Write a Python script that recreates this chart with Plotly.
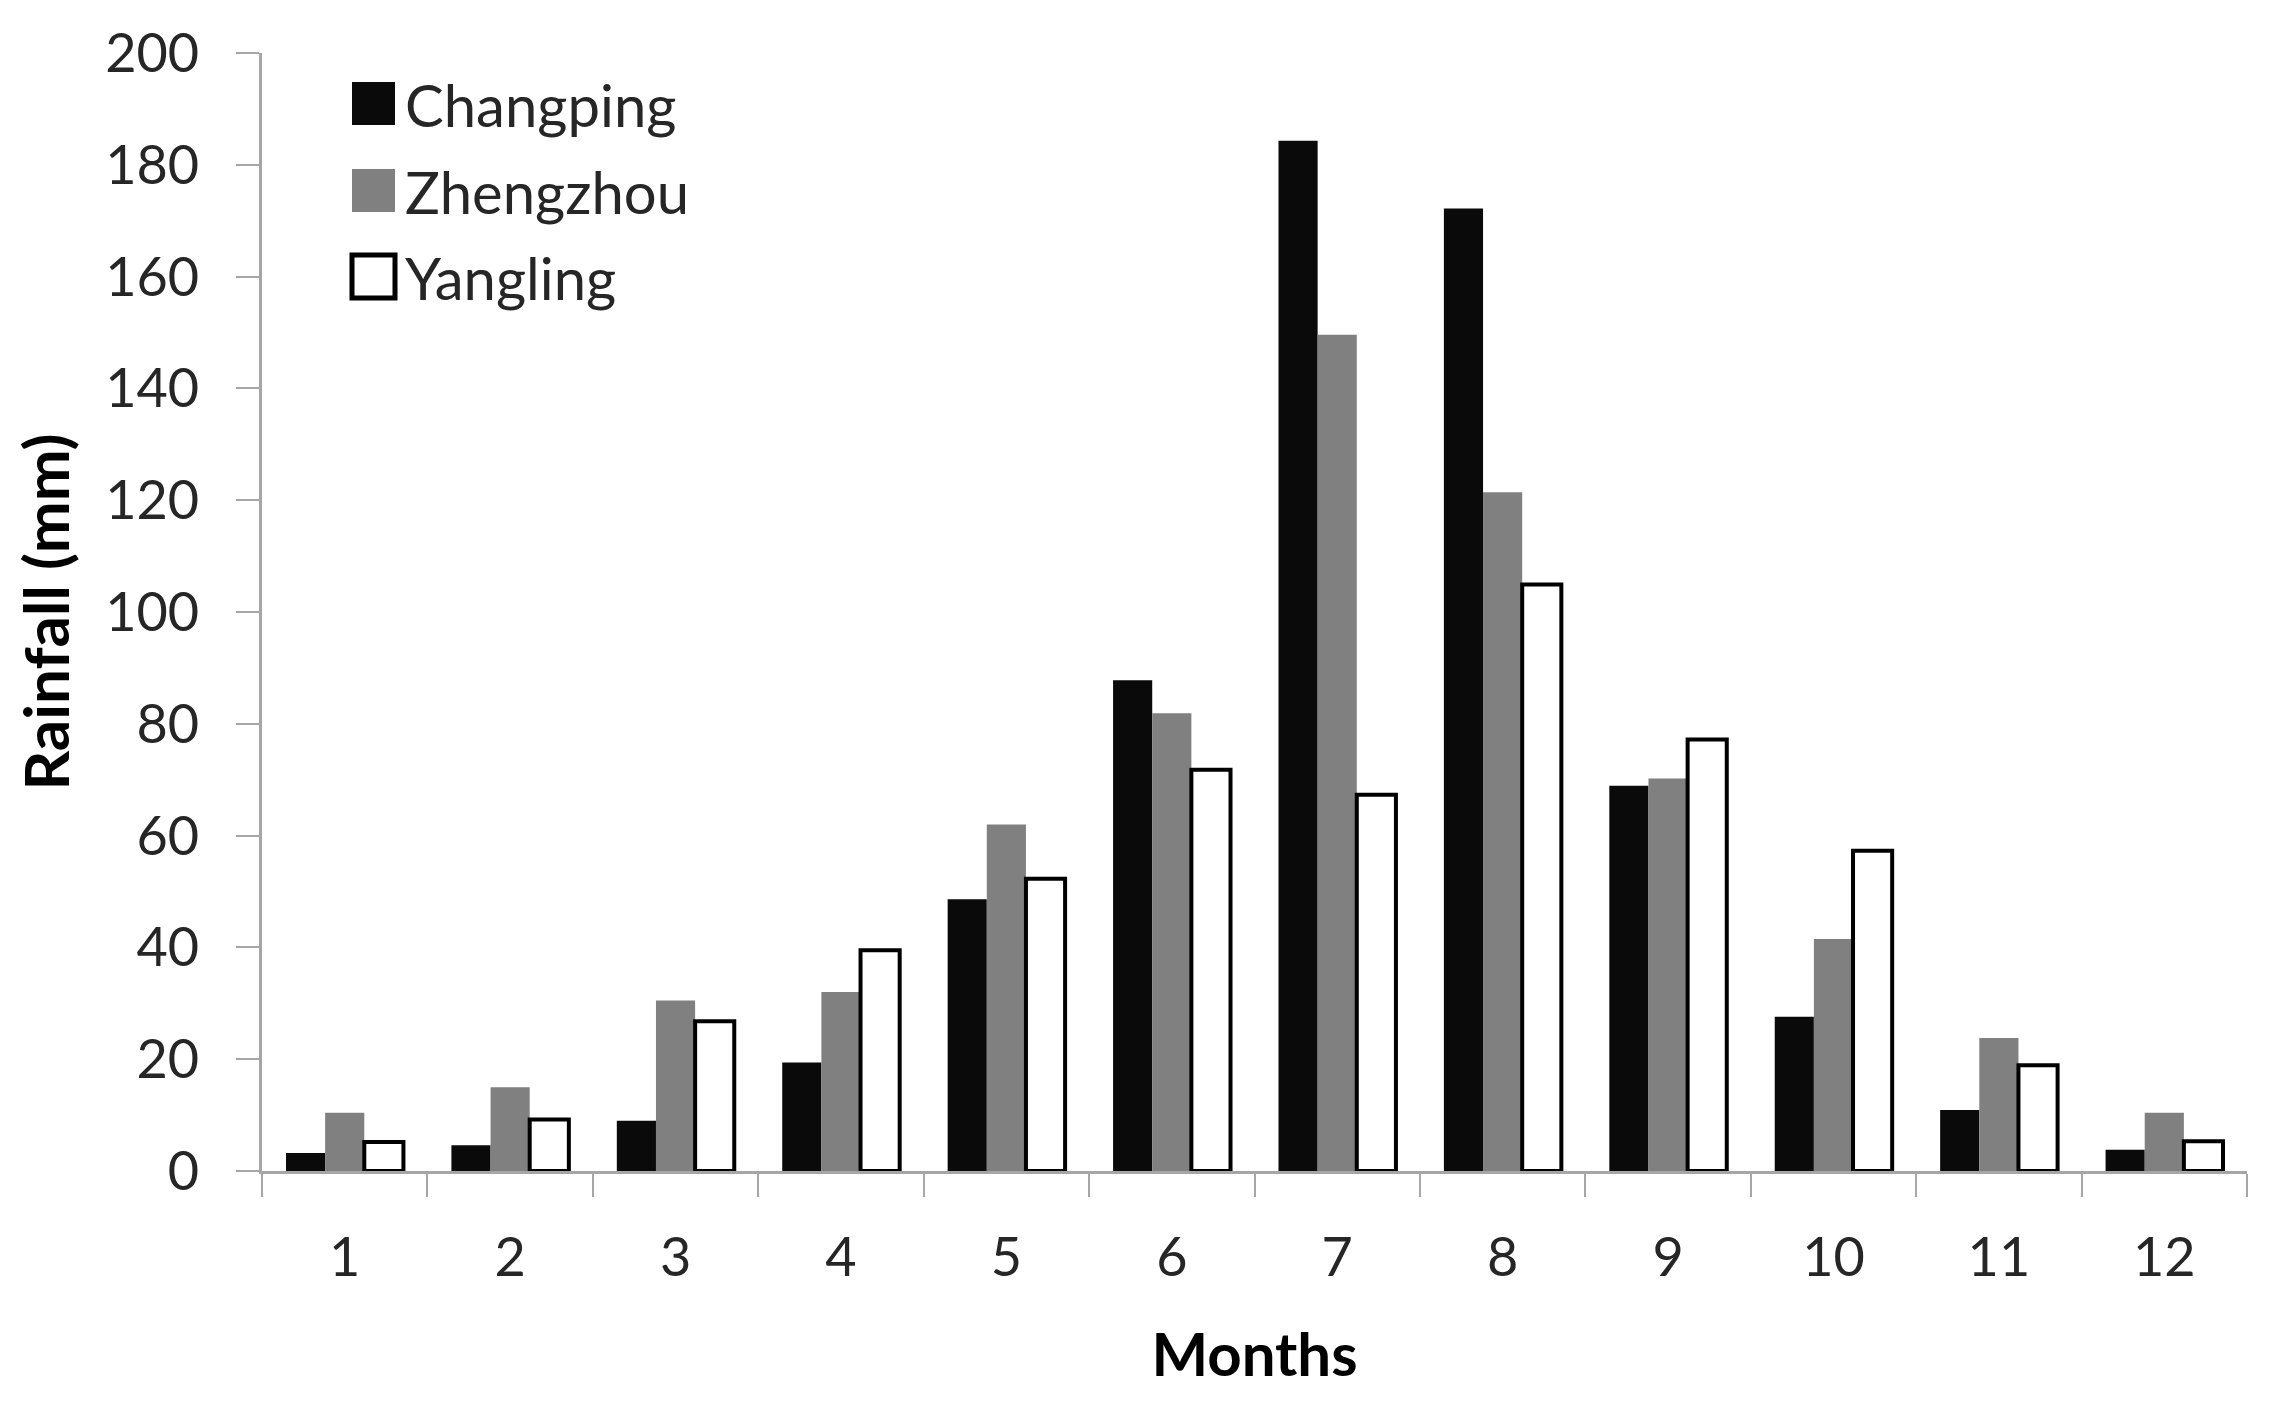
import plotly.graph_objects as go

months = ["1", "2", "3", "4", "5", "6", "7", "8", "9", "10", "11", "12"]
changping = [3.2, 4.6, 9.0, 19.4, 48.6, 87.8, 184.3, 172.2, 68.9, 27.6, 10.9, 3.8]
zhengzhou = [10.4, 15.0, 30.5, 32.0, 62.0, 81.9, 149.6, 121.4, 70.2, 41.5, 23.8, 10.4]
yangling = [5.2, 9.2, 26.8, 39.5, 52.3, 71.8, 67.3, 104.9, 77.2, 57.3, 18.9, 5.3]

y_ticks = [0, 20, 40, 60, 80, 100, 120, 140, 160, 180, 200]

FONT = "Lato"
AXIS_COLOR = "#a6a6a6"
TEXT_COLOR = "#262626"

W, H = 2253, 1385
L, R, T, B = 254, 14, 45, 222
PW = W - L - R
PH = H - T - B

fig = go.Figure()
fig.add_trace(go.Bar(name="Changping", x=months, y=changping,
                     marker=dict(color="#0a0a0a", line=dict(width=0))))
fig.add_trace(go.Bar(name="Zhengzhou", x=months, y=zhengzhou,
                     marker=dict(color="#808080", line=dict(width=0))))
fig.add_trace(go.Bar(name="Yangling", x=months, y=yangling,
                     marker=dict(color="#ffffff", line=dict(color="#000000", width=4))))

# manual legend (large square swatches like the reference), positions in figure pixels
legend_items = [("Changping", "#0a0a0a", "#0a0a0a"),
                ("Zhengzhou", "#808080", "#808080"),
                ("Yangling", "#ffffff", "#000000")]
sq_left, sq_size = 344, 43
tops = [74, 161, 247]


def px_x(p):
    return (p - L) / PW


def px_y(p):
    return (H - B - p) / PH


for (name, fill, edge), top in zip(legend_items, tops):
    fig.add_shape(type="rect", xref="paper", yref="paper",
                  x0=px_x(sq_left), x1=px_x(sq_left + sq_size),
                  y0=px_y(top + sq_size), y1=px_y(top),
                  fillcolor=fill, line=dict(color=edge, width=5 if fill == "#ffffff" else 0))
    fig.add_annotation(xref="paper", yref="paper",
                       x=px_x(sq_left + sq_size + 8), y=px_y(top + 22),
                       xanchor="left", yanchor="middle", showarrow=False,
                       text=name, font=dict(family=FONT, size=58, color=TEXT_COLOR))

fig.update_layout(
    width=W, height=H,
    paper_bgcolor="white", plot_bgcolor="white",
    margin=dict(l=L, r=R, t=T, b=B),
    barmode="group", bargap=0.29, bargroupgap=0,
    showlegend=False,
    font=dict(family=FONT, size=54, color=TEXT_COLOR),
)
fig.update_xaxes(
    type="category", range=[-0.5, 11.5],
    showline=True, linecolor=AXIS_COLOR, linewidth=3,
    ticks="outside", tickson="boundaries", ticklen=23, tickwidth=2, tickcolor=AXIS_COLOR,
    showgrid=False, zeroline=False,
    tickfont=dict(family=FONT, size=54, color=TEXT_COLOR),
    ticklabelstandoff=37,
    title=dict(text="<b>Months</b>", font=dict(family=FONT, size=60, color="#000000"), standoff=48),
)
fig.update_yaxes(
    range=[0, 200], tickvals=y_ticks,
    showline=True, linecolor=AXIS_COLOR, linewidth=3,
    ticks="outside", ticklen=23, tickwidth=2, tickcolor=AXIS_COLOR,
    showgrid=False, zeroline=False,
    tickfont=dict(family=FONT, size=54, color=TEXT_COLOR),
    ticklabelstandoff=26,
    title=dict(text="<b>Rainfall (mm)</b>", font=dict(family=FONT, size=62, color="#000000"), standoff=20),
)

fig.write_html("out.html")
